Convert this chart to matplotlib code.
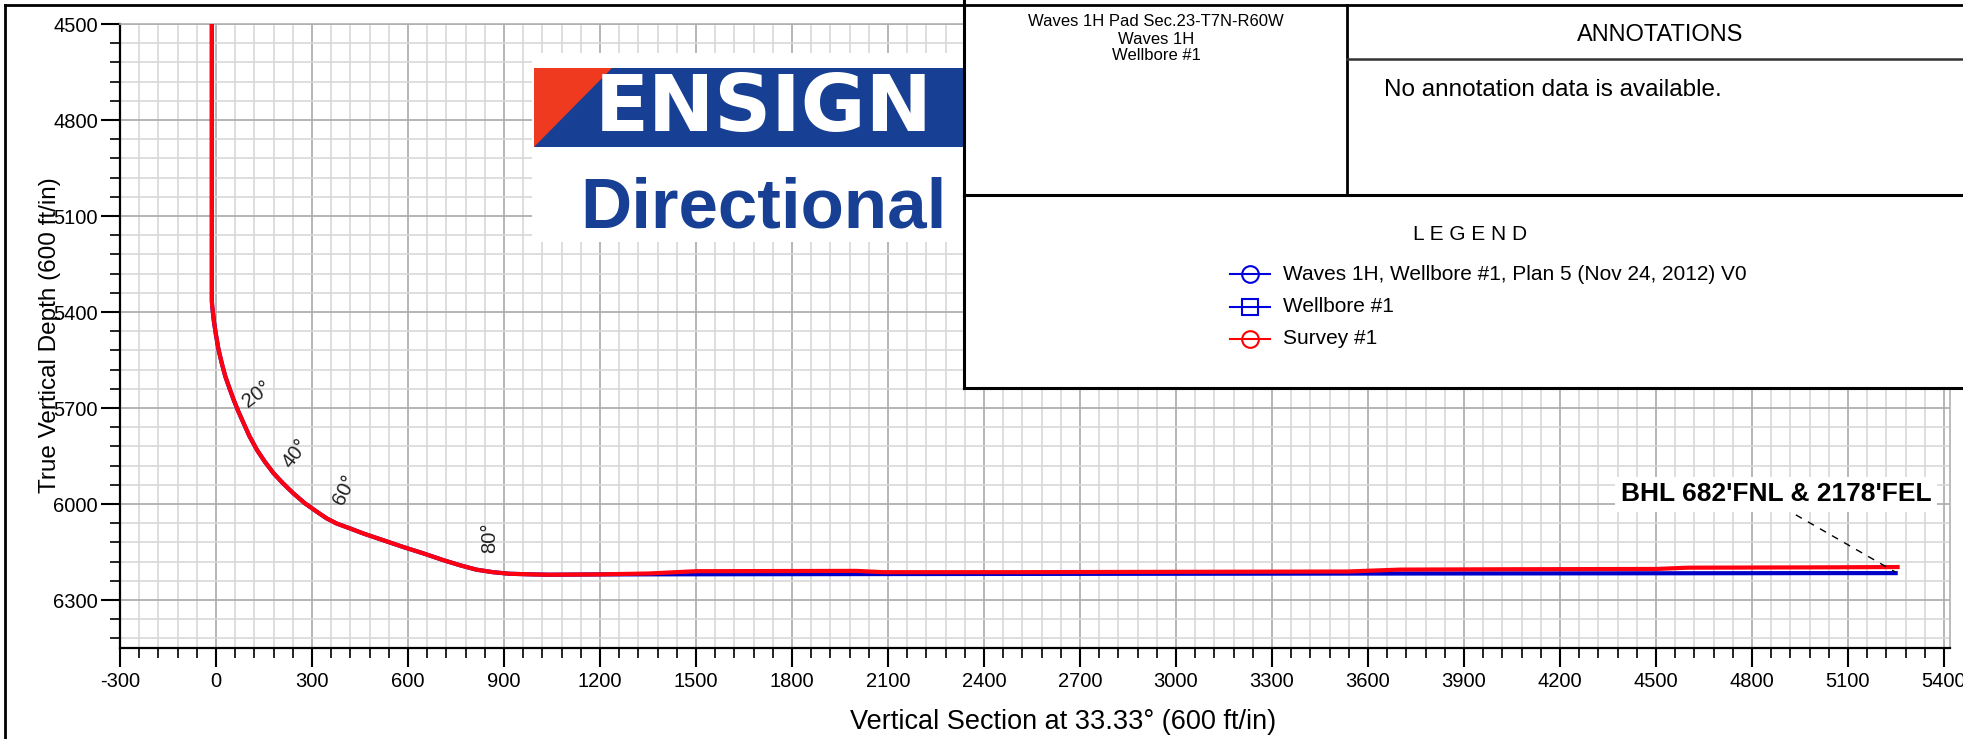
import matplotlib
matplotlib.use("Agg")
import matplotlib.pyplot as plt
from matplotlib.patches import Rectangle, Polygon
from matplotlib.ticker import MultipleLocator

plt.rcParams['font.family'] = ['Liberation Sans', 'DejaVu Sans']
plt.rcParams['axes.unicode_minus'] = False

# build section (shared by plan and survey)
build_vs = [-13, -13, -12, -10, -7, -1, 8, 18, 29, 42, 55, 70, 86, 105, 128, 152,
            180, 209, 242, 278, 315, 346, 377, 418, 460, 522, 584, 647, 709, 761,
            813, 865, 917, 989, 1041]
build_tvd = [4500, 5365, 5380, 5398, 5426, 5466, 5518, 5560, 5601, 5638, 5674, 5711,
             5747, 5789, 5831, 5867, 5904, 5935, 5967, 5998, 6024, 6045, 6061, 6076,
             6092, 6113, 6134, 6154, 6175, 6191, 6205, 6213, 6218, 6220, 6221]

# plan (blue) lateral
plan_vs = build_vs + [1200, 2000, 3000, 4000, 5000, 5249]
plan_tvd = build_tvd + [6220, 6219, 6218, 6217, 6216, 6216]

# survey (red) lateral
survey_vs = build_vs + [1200, 1356, 1500, 2000, 2085, 2500, 3000, 3535, 3700, 4000,
                        4500, 4600, 5000, 5255]
survey_tvd = build_tvd + [6220, 6217, 6210, 6209, 6213, 6213, 6212, 6211, 6205, 6204,
                          6203, 6199, 6198, 6197]

# inclination labels
inc_labels = ["20°", "40°", "60°", "80°"]
inc_vs = [127, 249, 401, 856]
inc_tvd = [5659, 5844, 5956, 6107]
inc_rot = [37, 52, 64, 90]

bhl_text = "BHL 682'FNL & 2178'FEL"
bhl_pos = (4875, 5969)
bhl_leader_vs = [4937, 5247]
bhl_leader_tvd = [6034, 6212]

legend_labels = ["Waves 1H, Wellbore #1, Plan 5 (Nov 24, 2012) V0", "Wellbore #1", "Survey #1"]
legend_colors = ["#0000e0", "#0000e0", "#ff0000"]
legend_markers = ["o", "s", "o"]

header_lines = ["Waves 1H Pad Sec.23-T7N-R60W", "Waves 1H", "Wellbore #1"]

W, H = 1963, 739
fig = plt.figure(figsize=(W / 100, H / 100), dpi=100)
ax = fig.add_axes([120 / W, 1 - 648 / H, (1950.4 - 120) / W, (648 - 24) / H])

ax.plot(plan_vs, plan_tvd, color="#0000c8", lw=3, solid_joinstyle="round", zorder=3)
ax.plot(survey_vs, survey_tvd, color="#ff0010", lw=3, solid_joinstyle="round", zorder=4)

ax.set_xlim(-300, 5420)
ax.set_ylim(6450, 4500)
ax.xaxis.set_major_locator(MultipleLocator(300))
ax.xaxis.set_minor_locator(MultipleLocator(60))
ax.set_yticks([4500, 4800, 5100, 5400, 5700, 6000, 6300])
ax.set_yticks(list(range(4500, 6450, 60)), minor=True)

ax.grid(which="major", color="#b0b0b0", lw=1.3)
ax.grid(which="minor", color="#d8d8d8", lw=1.2)
ax.set_axisbelow(True)

for s in ["left", "bottom"]:
    ax.spines[s].set_linewidth(1.6)
    ax.spines[s].set_color("black")
for s in ["top", "right"]:
    ax.spines[s].set_linewidth(1.2)
    ax.spines[s].set_color("#b0b0b0")

ax.tick_params(which="major", direction="out", length=14, width=1.5, labelsize=14.5)
ax.tick_params(which="minor", direction="out", length=7, width=1.2)
ax.tick_params(axis="x", which="major", pad=3)
ax.tick_params(axis="y", which="major", pad=2)

ax.set_xlabel("Vertical Section at 33.33° (600 ft/in)", fontsize=19.5, va="center")
ax.xaxis.set_label_coords((1063 - 120) / 1830.4, (648 - 722) / 624)
ax.set_ylabel("True Vertical Depth (600 ft/in)", fontsize=17.5, va="center")
ax.yaxis.set_label_coords((50 - 120) / 1830.4, (648 - 335) / 624)

for t, x, y, r in zip(inc_labels, inc_vs, inc_tvd, inc_rot):
    ax.text(x, y, t, rotation=r, fontsize=14.5, color="#222222",
            ha="center", va="center", rotation_mode="anchor", zorder=5)

ax.text(bhl_pos[0], bhl_pos[1], bhl_text, fontsize=19, fontweight="bold",
        ha="center", va="center", zorder=6,
        bbox=dict(facecolor="white", edgecolor="none", pad=4))
ax.plot(bhl_leader_vs, bhl_leader_tvd, color="black", lw=1, dashes=(5, 5), zorder=5)

# overlay in pixel coordinates for frame, logo and title block
ov = fig.add_axes([0, 0, 1, 1])
ov.set_xlim(0, W)
ov.set_ylim(H, 0)
ov.axis("off")
ov.set_zorder(10)
ov.patch.set_alpha(0)

# frame
ov.plot([5, 5], [5, H], color="black", lw=2)
ov.plot([5, W], [5, 5], color="black", lw=2)

# logo
ov.add_patch(Rectangle((532, 53), 432, 189, facecolor="white", edgecolor="none"))
ov.add_patch(Rectangle((534, 68), 429, 79, facecolor="#173f93", edgecolor="none"))
ov.add_patch(Polygon([(534, 68), (612, 68), (534, 147)], closed=True,
                     facecolor="#f03a1f", edgecolor="none"))
ov.text(764, 109, "ENSIGN", family="DejaVu Sans", fontweight="bold", fontsize=57,
        color="white", ha="center", va="center")
ov.text(763, 228, "Directional", fontweight="bold", fontsize=51, color="#173f93",
        ha="center", va="baseline")

# title block
ov.add_patch(Rectangle((964, 5), W - 964 + 5, 383, facecolor="white", edgecolor="none"))
ov.plot([964, 964], [0, 388], color="black", lw=2.2)
ov.plot([964, W], [388, 388], color="black", lw=2.2)
ov.plot([964, W], [195, 195], color="black", lw=2.2)
ov.plot([1347, 1347], [5, 195], color="black", lw=2)
ov.plot([1347, W], [59, 59], color="#333333", lw=1.8)

for i, line in enumerate(header_lines):
    ov.text(1156, 22 + 17 * i, line, fontsize=12, ha="center", va="center")

ov.text(1660, 35, "ANNOTATIONS", fontsize=17, ha="center", va="center")
ov.text(1384, 90, "No annotation data is available.", fontsize=17.5, ha="left", va="center")

ov.text(1470, 235, "L E G E N D", fontsize=15, ha="center", va="center")
for i, (lab, c, m) in enumerate(zip(legend_labels, legend_colors, legend_markers)):
    y = 274 + 32.5 * i
    ov.plot([1230, 1270], [y, y], color=c, lw=1.5)
    ov.plot([1250], [y], marker=m, ms=12, mfc="none", mec=c, mew=1.5)
    ov.text(1283, y, lab, fontsize=15, ha="left", va="center")

fig.savefig("out.png", dpi=100)
